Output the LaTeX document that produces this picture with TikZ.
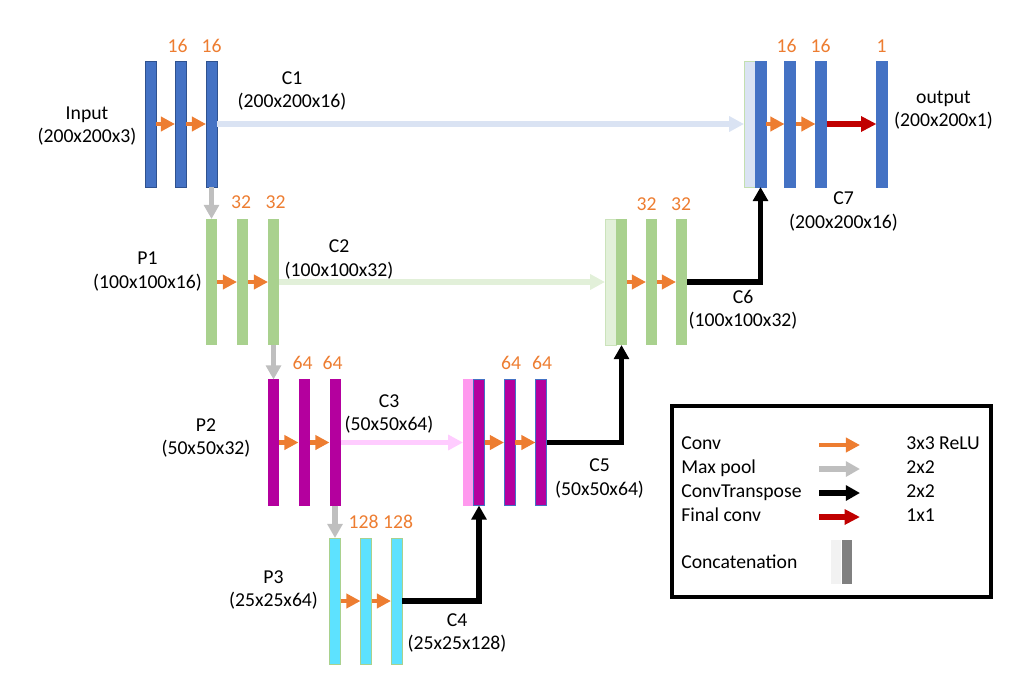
\documentclass[tikz,border=0pt]{standalone}
\usepackage{fontspec}
\setmainfont{Carlito}
\usepackage{tikz}
\usepackage{xcolor}
\usetikzlibrary{arrows.meta, positioning, calc}

\definecolor{convorange}{HTML}{ED7D31}
\definecolor{barblue}{HTML}{4472C4}
\definecolor{barblueedge}{HTML}{2F528F}
\definecolor{bargreen}{HTML}{A9D18E}
\definecolor{barpurple}{HTML}{B4009E}
\definecolor{barcyan}{HTML}{5DE2FF}
\definecolor{catblue}{HTML}{DAE3F3}
\definecolor{catgreen}{HTML}{E2F0D9}
\definecolor{catpink}{HTML}{FF99EE}
\definecolor{skippink}{HTML}{FFCCFF}
\definecolor{poolgray}{HTML}{BFBFBF}
\definecolor{finalred}{HTML}{C00000}

\tikzset{
  bar/.style={rectangle, inner sep=0pt, outer sep=0pt, minimum width=2.75mm, minimum height=31.5mm},
  bluebar/.style={bar, fill=barblue, draw=barblueedge, line width=0.4pt},
  greenbar/.style={bar, fill=bargreen},
  purplebar/.style={bar, fill=barpurple},
  cyanbar/.style={bar, fill=barcyan, draw=bargreen, line width=0.4pt},
  txt/.style={align=center, inner sep=0pt, font=\fontsize{14}{16.5}\selectfont},
  num/.style={txt, text=convorange},
  legtxt/.style={inner sep=0pt, anchor=base west, font=\fontsize{14}{16.5}\selectfont},
  conv/.style={draw=convorange, line width=3.2pt, -{Triangle[length=10pt,width=10pt]}},
  pool/.style={draw=poolgray, line width=3.6pt, -{Triangle[length=10pt,width=10.5pt]}},
  upconv/.style={draw=black, line width=4pt, -{Triangle[length=10pt,width=10.5pt]}},
  final/.style={draw=finalred, line width=3.8pt, -{Triangle[length=11pt,width=10.5pt]}},
  skip/.style={line width=3.6pt, -{Triangle[length=10.5pt,width=10.5pt]}}
}

\begin{document}
\begin{tikzpicture}[x=0.025cm, y=-0.025cm]
\useasboundingbox (0,0) rectangle (1017,678);

% Encoder
\foreach \x/\n in {150.5/c1a, 180.5/c1b, 211.5/c1c}
  \node[bluebar] (\n) at (\x,124) {};
\foreach \x/\n in {211.5/p1a, 242.5/p1b, 273.5/p1c}
  \node[greenbar] (\n) at (\x,282) {};
\foreach \x/\n in {273.5/p2a, 304/p2b, 335/p2c}
  \node[purplebar] (\n) at (\x,442.5) {};
\foreach \x/\n in {335/p3a, 366/p3b, 396.5/p3c}
  \node[cyanbar] (\n) at (\x,601) {};

% Decoder, the light bar is the copied skip
\node[bar, fill=catpink] (c5skip) at (468.5,442.5) {};
\foreach \x/\n in {479/c5up, 509.5/c5b, 541/c5c}
  \node[purplebar, draw=barblue, line width=0.4pt] (\n) at (\x,442.5) {};
\node[bar, fill=catgreen, draw=bargreen!60, line width=0.4pt] (c6skip) at (610.5,282) {};
\foreach \x/\n in {621.5/c6up, 651.5/c6b, 681.5/c6c}
  \node[greenbar] (\n) at (\x,282) {};
\node[bar, fill=catblue, draw=bargreen!70, line width=0.4pt] (c7skip) at (749.5,124) {};
\foreach \x/\n in {760.5/c7up, 790/c7b, 821/c7c, 882/out}
  \node[bluebar, draw=barblue] (\n) at (\x,124) {};

% Filter counts
\node[num] (n1b) at (177.5,46) {16};
\node[num] (n1c) at (211.5,46) {16};
\node[num] (n2b) at (241,202) {32};
\node[num] (n2c) at (275.5,202) {32};
\node[num] (n3b) at (302.5,363) {64};
\node[num] (n3c) at (332.5,363) {64};
\node[num] (n4b) at (363.5,521.5) {128};
\node[num] (n4c) at (398,521.5) {128};
\node[num] (n5b) at (511,363) {64};
\node[num] (n5c) at (542,363) {64};
\node[num] (n6b) at (646.5,204.5) {32};
\node[num] (n6c) at (681,204.5) {32};
\node[num] (n7b) at (786.5,46) {16};
\node[num] (n7c) at (820.5,46) {16};
\node[num] (n7o) at (881.5,46) {1};

% Layer names
\node[txt] (tin) at (87,126) {Input\\(200x200x3)};
\node[txt] (tc1) at (292,91) {C1\\(200x200x16)};
\node[txt] (tp1) at (147.5,271.5) {P1\\(100x100x16)};
\node[txt] (tc2) at (339,259.5) {C2\\(100x100x32)};
\node[txt] (tp2) at (206,438) {P2\\(50x50x32)};
\node[txt] (tc3) at (389,414) {C3\\(50x50x64)};
\node[txt] (tp3) at (273.5,590) {P3\\(25x25x64)};
\node[txt] (tc4) at (457,633) {C4\\(25x25x128)};
\node[txt] (tc5) at (599.5,478.5) {C5\\(50x50x64)};
\node[txt] (tc6) at (743,309.5) {C6\\(100x100x32)};
\node[txt] (tc7) at (843.5,211.5) {C7\\(200x200x16)};
\node[txt] (tout) at (943.5,110) {output\\(200x200x1)};

% Convolutions
\foreach \a/\b in {c1a/c1b, c1b/c1c, p1a/p1b, p1b/p1c, p2a/p2b, p2b/p2c, p3a/p3b, p3b/p3c,
                   c5up/c5b, c5b/c5c, c6up/c6b, c6b/c6c, c7up/c7b, c7b/c7c}
  \draw[conv] (\a.east) -- (\b.west);

% Pooling
\draw[pool] (c1c.south) -- (p1a.north);
\draw[pool] (p1c.south) -- (p2a.north);
\draw[pool] (p2c.south) -- (p3a.north);

% Skip connections
\draw[skip, draw=catblue] (c1c.east) -- (c7skip.west);
\draw[skip, draw=catgreen] (p1c.east) -- (c6skip.west);
\draw[skip, draw=skippink] (p2c.east) -- (c5skip.west);

% Up-convolutions
\draw[upconv] (p3c.east) -| (c5up.south);
\draw[upconv] (c5c.east) -| (c6up.south);
\draw[upconv] (c6c.east) -| (c7up.south);

% Final 1x1
\draw[final] (c7c.east) -- (out.west);

% Legend
\draw[line width=2.9pt] (672,406) rectangle (991,597);
\foreach \yy/\kind/\name/\size [count=\i] in {449/conv/Conv/3x3 ReLU, 473/pool/Max pool/2x2,
                                             497/upconv/ConvTranspose/2x2, 521/final/Final conv/1x1} {
  \node[legtxt] (lgname\i) at (681,\yy) {\name};
  \node[legtxt] (lgsize\i) at (906,\yy) {\size};
  \coordinate (lgfrom\i) at (819,{\yy-4});
  \coordinate (lgto\i) at (860,{\yy-4});
  \draw[\kind] (lgfrom\i) -- (lgto\i);
}
\node[legtxt] (lgcat) at (681,568) {Concatenation};
\node[inner sep=0pt, minimum width=2.5mm, minimum height=11mm, fill=black!5] (lgcatl) at (836,562) {};
\node[inner sep=0pt, minimum width=2.5mm, minimum height=11mm, fill=black!50, right=0pt of lgcatl] (lgcatr) {};
\end{tikzpicture}
\end{document}
